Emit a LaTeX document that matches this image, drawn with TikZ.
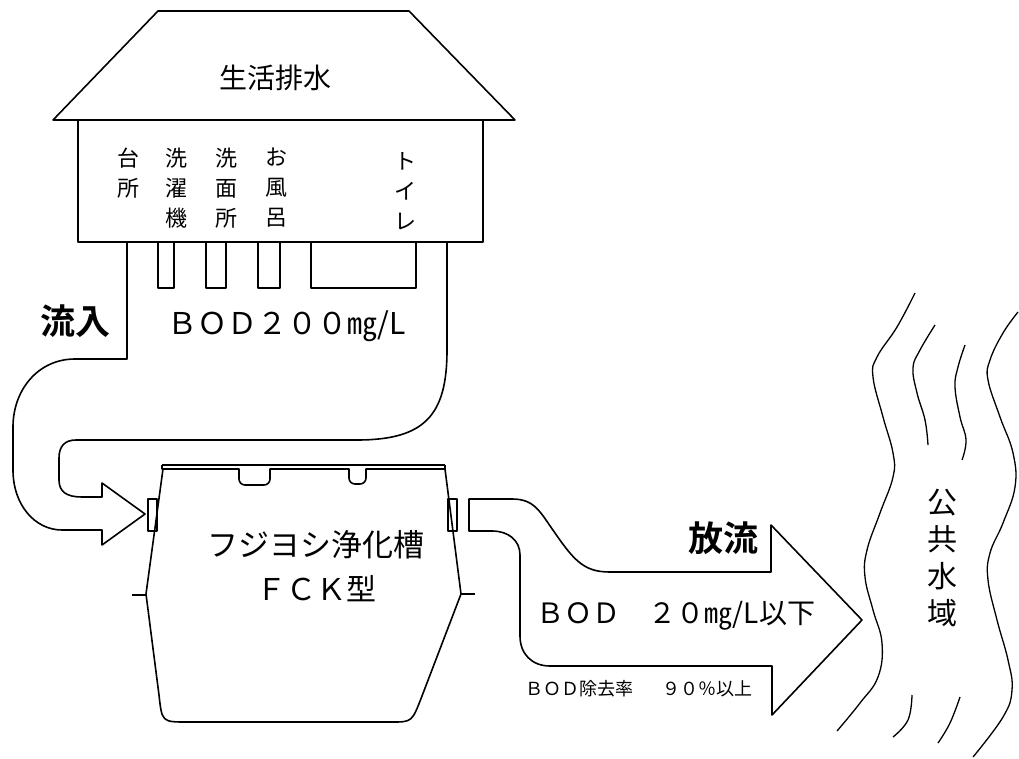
\documentclass[tikz,border=0pt]{standalone}
\usepackage{fontspec}
\newfontfamily\jp{Noto Sans CJK JP}
\newfontfamily\jpb{Noto Sans CJK JP Bold}
\begin{document}
\begin{tikzpicture}[x=1pt,y=-1pt,line width=1.6pt,line join=round,
  txt/.style={inner sep=0pt,font=\jp},
  col/.style={inner sep=0pt,anchor=north,align=center,font=\jp\fontsize{22}{30}\selectfont},
  thinline/.style={line width=1.2pt},
  river/.style={line width=1.3pt}]
\useasboundingbox (0,0) rectangle (1019,759);

% house: roof and walls
\draw (53,120) -- (158,11) -- (409,11) -- (515,120) -- cycle;
\draw (78,120) -- (78,242) -- (483,242) -- (483,120);
\node[txt,font=\jp\fontsize{28}{28}\selectfont] (title) at (275,78) {生活排水};

% drain sources inside the house
\node[col] (kitchen) at (128,147) {台\\所};
\node[col] (laundry) at (176,147) {洗\\濯\\機};
\node[col] (washroom) at (226,147) {洗\\面\\所};
\node[col] (bath) at (276,147) {お\\風\\呂};
\node[col] (toilet) at (405,152) {ト\\イ\\レ};

% drain stubs under the house
\draw (158,242) rectangle (174,288);
\draw (206,242) rectangle (226,288);
\draw (258,242) rectangle (280,288);
\draw (311,242) rectangle (416,288);

% inflow pipe ending in an arrow
\draw (127,242) -- (127,359) -- (75,359)
  .. controls (38,359) and (13,390) .. (13,427) -- (13,470)
  .. controls (13,505) and (35,530) .. (62,530) -- (102,530) -- (102,545)
  -- (145,514) -- (102,483) -- (102,497) -- (82,497)
  .. controls (67,497) and (59,492) .. (59,480) -- (59,458)
  .. controls (59,446) and (65,440) .. (76,440) -- (357,440)
  .. controls (425,440) and (447,415) .. (447,350) -- (447,242);
\node[txt,font=\jpb\fontsize{35}{35}\selectfont] (inflow) at (75,321) {流入};
\node[txt,font=\jp\fontsize{30}{30}\selectfont] (bodin) at (287,326) {ＢＯＤ２００㎎/L};

% treatment tank: lid with two notches, inlet/outlet flanges, body
\draw (162,465) -- (445,465);
\draw (162,465) -- (162,469) -- (239,469) [rounded corners=6] -- (239,485) -- (270,485)
  [sharp corners] -- (270,469) -- (349,469) [rounded corners=6] -- (349,484) -- (366,484)
  [sharp corners] -- (366,469) -- (445,469) -- (445,465);
\draw[thinline] (148,499) rectangle (157,531);
\draw[thinline] (448,499) rectangle (457,531);
\draw (163,469) -- (146,594) -- (159,695)
  .. controls (162,722) and (162,722) .. (187,722) -- (392,722)
  .. controls (412,722) and (412,722) .. (422,696) -- (461,594) -- (445,469);
\draw[thinline] (132,595) -- (146,595);
\draw[thinline] (461,594) -- (475,594);
\node[txt,font=\jp\fontsize{31}{31}\selectfont] (tank) at (316,545) {フジヨシ浄化槽};
\node[txt,font=\jp\fontsize{30}{30}\selectfont] (model) at (316,589) {ＦＣＫ型};

% discharge arrow
\draw (469,499) -- (512,499)
  .. controls (535,499) and (540,512) .. (555,533)
  .. controls (575,562) and (585,572) .. (610,572)
  -- (771,572) -- (771,525) -- (862,620) -- (772,715) -- (772,666) -- (550,666)
  .. controls (532,666) and (520,654) .. (520,636) -- (520,555)
  .. controls (520,540) and (508,531) .. (492,531) -- (469,531) -- cycle;
\node[txt,font=\jpb\fontsize{35}{35}\selectfont] (outflow) at (723,538) {放流};
\node[txt,font=\jp\fontsize{28}{28}\selectfont] (bodout) at (676,616) {ＢＯＤ　２０㎎/L以下};
\node[txt,font=\jp\fontsize{18}{18}\selectfont] (removal) at (639,689) {ＢＯＤ除去率　\hspace{0.6em}９０％以上};

% receiving water
\draw[river] plot[smooth,tension=0.7] coordinates {(915,293) (897,327) (877,357) (873,377) (883,417) (893,453) (893,477) (880,513) (867,550) (865,577) (873,610) (882,643) (878,677) (860,703) (837,731)};
\draw[river] plot[smooth,tension=0.7] coordinates {(935,325) (920,350) (913,368) (917,393) (925,420) (928,445)};
\draw[river] plot[smooth,tension=0.7] coordinates {(965,345) (958,367) (955,387) (960,417) (966,440) (962,460)};
\draw[river] plot[smooth,tension=0.7] coordinates {(1018,312) (1003,333) (990,360) (988,380) (1000,417) (1013,453) (1015,487) (1003,523) (990,553) (988,580) (997,620) (1008,660) (1012,690) (1003,717) (973,757)};
\draw[river] plot[smooth,tension=0.7] coordinates {(912,695) (908,720) (893,737)};
\draw[river] plot[smooth,tension=0.7] coordinates {(960,697) (950,723) (938,743)};
\node[col,font=\jp\fontsize{30}{37}\selectfont] (water) at (942,488) {公\\共\\水\\域};
\end{tikzpicture}
\end{document}
